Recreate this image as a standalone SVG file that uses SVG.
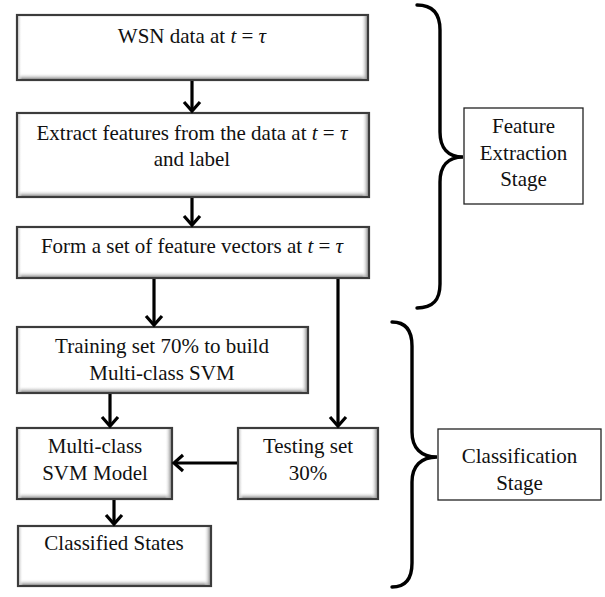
<svg xmlns="http://www.w3.org/2000/svg" width="605" height="597" viewBox="0 0 605 597">
<style>
.box{fill:#fff;stroke:#3c3c3c;stroke-width:2.2}
.stage{fill:#fff;stroke:#222;stroke-width:1.3}
.bb{fill:url(#gb)}
.br{fill:url(#gr)}
.bl{fill:url(#gl)}
text{font-family:"Liberation Serif","Times New Roman",serif;font-size:21px;fill:#111;text-anchor:middle}
.m{font-style:italic}
.con{fill:none;stroke:#000;stroke-width:3.2}
.brace{fill:none;stroke:#000;stroke-width:3.4;stroke-linecap:round}
</style>
<defs>
<linearGradient id="gb" x1="0" y1="0" x2="0" y2="1"><stop offset="0" stop-color="#fff" stop-opacity="0"/><stop offset="1" stop-color="#8f8f8f"/></linearGradient>
<linearGradient id="gr" x1="0" y1="0" x2="1" y2="0"><stop offset="0" stop-color="#fff" stop-opacity="0"/><stop offset="1" stop-color="#8f8f8f"/></linearGradient>
<linearGradient id="gl" x1="1" y1="0" x2="0" y2="0"><stop offset="0" stop-color="#fff" stop-opacity="0"/><stop offset="1" stop-color="#c4c4c4"/></linearGradient>
<marker id="ah" markerWidth="12" markerHeight="14" refX="10" refY="7" orient="auto" markerUnits="userSpaceOnUse" overflow="visible">
<path d="M1,-1 L10,7 L1,15" fill="none" stroke="#000" stroke-width="3.2"/>
</marker>
</defs>

<g id="n1">
<rect class="box" x="17" y="15" width="351" height="65"/>
<rect class="bb" x="18" y="73" width="349" height="6"/><rect class="br" x="361" y="16" width="6" height="63"/><rect class="bl" x="18" y="16" width="4" height="63"/>
<text x="192" y="43">WSN data at <tspan class="m">t</tspan> = <tspan class="m">τ</tspan></text>
</g>

<g id="n2">
<rect class="box" x="17" y="113" width="352" height="84"/>
<rect class="bb" x="18" y="190" width="350" height="6"/><rect class="br" x="362" y="114" width="6" height="82"/><rect class="bl" x="18" y="114" width="4" height="82"/>
<text x="192" y="140">Extract features from the data at <tspan class="m">t</tspan> = <tspan class="m">τ</tspan></text>
<text x="192" y="166">and label</text>
</g>

<g id="n3">
<rect class="box" x="17" y="227" width="352" height="51"/>
<rect class="bb" x="18" y="271" width="350" height="6"/><rect class="br" x="362" y="228" width="6" height="49"/><rect class="bl" x="18" y="228" width="4" height="49"/>
<text x="192" y="253">Form a set of feature vectors at <tspan class="m">t</tspan> = <tspan class="m">τ</tspan></text>
</g>

<g id="n4">
<rect class="box" x="17" y="327" width="291" height="66"/>
<rect class="bb" x="18" y="386" width="289" height="6"/><rect class="br" x="301" y="328" width="6" height="64"/><rect class="bl" x="18" y="328" width="4" height="64"/>
<text x="162" y="353">Training set 70% to build</text>
<text x="162" y="380">Multi-class SVM</text>
</g>

<g id="n5">
<rect class="box" x="17" y="428" width="155" height="71"/>
<rect class="bb" x="18" y="492" width="153" height="6"/><rect class="br" x="165" y="429" width="6" height="69"/><rect class="bl" x="18" y="429" width="4" height="69"/>
<text x="95" y="453">Multi-class</text>
<text x="95" y="480">SVM Model</text>
</g>

<g id="n6">
<rect class="box" x="238" y="428" width="140" height="71"/>
<rect class="bb" x="239" y="492" width="138" height="6"/><rect class="br" x="371" y="429" width="6" height="69"/><rect class="bl" x="239" y="429" width="4" height="69"/>
<text x="308" y="453">Testing set</text>
<text x="308" y="480">30%</text>
</g>

<g id="n7">
<rect class="box" x="18" y="526" width="193" height="60"/>
<rect class="bb" x="19" y="579" width="191" height="6"/><rect class="br" x="204" y="527" width="6" height="58"/><rect class="bl" x="19" y="527" width="4" height="58"/>
<text x="114" y="550">Classified States</text>
</g>

<g id="s1">
<path class="brace" d="M417,5 C433,5 440,14 440,30 L440,132 C440,148 448,157 463,157 C448,157 440,166 440,182 L440,284 C440,300 433,308 417,308"/>
<rect class="stage" x="464" y="108" width="119" height="96"/>
<text x="523.5" y="133">Feature</text>
<text x="523.5" y="160">Extraction</text>
<text x="523.5" y="186">Stage</text>
</g>

<g id="s2">
<path class="brace" d="M392,322 C406,322 412,331 412,346 L412,432 C412,448 421,457 437,457 C421,457 412,466 412,482 L412,563 C412,578 406,587 392,587"/>
<rect class="stage" x="438" y="429" width="163" height="71"/>
<text x="519.5" y="463">Classification</text>
<text x="519.5" y="490">Stage</text>
</g>

<g id="connectors">
<path class="con" d="M192,81 L192,111" marker-end="url(#ah)"/>
<path class="con" d="M192,198 L192,225" marker-end="url(#ah)"/>
<path class="con" d="M154,279 L154,325" marker-end="url(#ah)"/>
<path class="con" d="M338,279 L338,426" marker-end="url(#ah)"/>
<path class="con" d="M110,394 L110,426" marker-end="url(#ah)"/>
<path class="con" d="M237,463 L174,463" marker-end="url(#ah)"/>
<path class="con" d="M114,500 L114,524" marker-end="url(#ah)"/>
</g>
</svg>
